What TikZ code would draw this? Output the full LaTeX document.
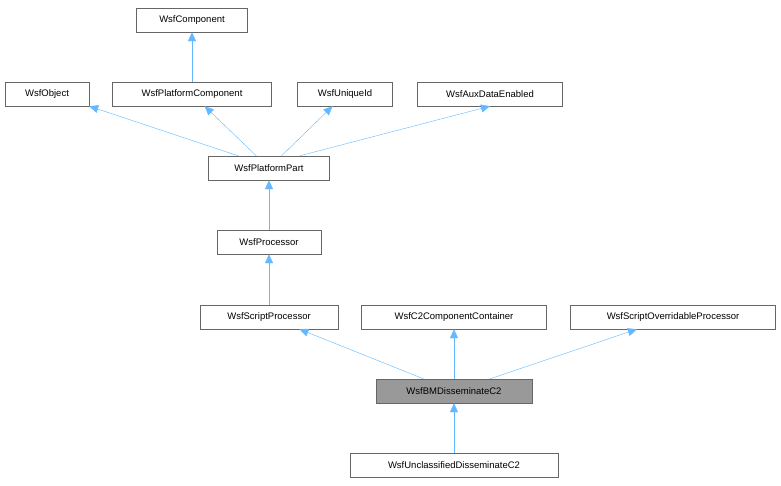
\documentclass[tikz,border=0pt]{standalone}
\usepackage{fontspec}
\setmainfont{Liberation Sans}
\usetikzlibrary{arrows.meta}
\definecolor{inhblue}{HTML}{63B8FF}
\definecolor{boxgray}{HTML}{666666}
\definecolor{curgray}{HTML}{999999}

\begin{document}
\begin{tikzpicture}[x=1pt,y=-1pt,
  cls/.style={draw=boxgray, fill=white, minimum height=24pt, inner sep=0pt,
    font=\fontsize{9.5}{11}\selectfont},
  inh/.style={draw=inhblue, -{Triangle[width=8pt,length=9pt]}}]
\useasboundingbox (0,0) rectangle (781,485);
%%% The classes of the hierarchy
\node[cls, minimum width=111pt] (comp) at (192,20) {WsfComponent};
\node[cls, minimum width=84pt] (obj) at (47,94) {WsfObject};
\node[cls, minimum width=159pt] (pcomp) at (192,94) {WsfPlatformComponent};
\node[cls, minimum width=95pt] (uid) at (345,94) {WsfUniqueId};
\node[cls, minimum width=145pt] (aux) at (490,94) {WsfAuxDataEnabled};
\node[cls, minimum width=121pt] (ppart) at (269,168) {WsfPlatformPart};
\node[cls, minimum width=104pt] (proc) at (269,242) {WsfProcessor};
\node[cls, minimum width=138pt] (sproc) at (269,317) {WsfScriptProcessor};
\node[cls, minimum width=185pt] (c2cont) at (454,317) {WsfC2ComponentContainer};
\node[cls, minimum width=205pt] (soproc) at (673,317) {WsfScriptOverridableProcessor};
\node[cls, minimum width=156pt, fill=curgray] (bmdis) at (454,391) {WsfBMDisseminateC2};
\node[cls, minimum width=208pt] (uncl) at (454,465) {WsfUnclassifiedDisseminateC2};
%%% The inheritance edges
\draw[inh] (pcomp) -- (comp);
\draw[inh] (ppart.north west) ++(30,0) -- (obj.south east);
\draw[inh] (ppart) -- (pcomp);
\draw[inh] (ppart) -- (uid);
\draw[inh] (ppart.north east) ++(-30,0) -- (aux.south);
\draw[inh] (proc) -- (ppart);
\draw[inh] (sproc) -- (proc);
\draw[inh] (bmdis) -- (sproc);
\draw[inh] (bmdis) -- (c2cont);
\draw[inh] (bmdis) -- (soproc);
\draw[inh] (uncl) -- (bmdis);
\end{tikzpicture}
\end{document}
